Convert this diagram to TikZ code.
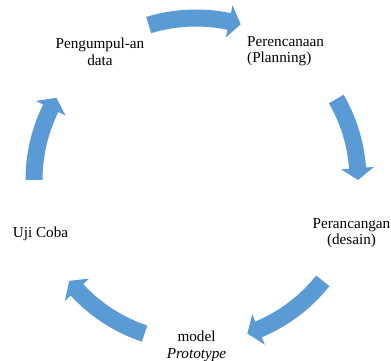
\documentclass[tikz,border=0pt]{standalone}
\usepackage{fontspec}
\setmainfont{Liberation Serif}
\definecolor{cyclblue}{RGB}{91,155,213}
\tikzset{
  lbl/.style={inner sep=0pt, font=\fontsize{15.2}{16.5}\selectfont, align=center},
  arrowfill/.style={fill=cyclblue, draw=none}
}
\newcommand{\cycarrow}[2]{% tail angle, tip angle (clockwise)
  \fill[arrowfill, shift={(196,181)}]
    (#1:170.5) arc[start angle=#1, end angle=#2+4.2, radius=170.5]
    -- (#2+4.2:178.5) -- (#2:162) -- (#2+4.2:145.5) -- (#2+4.2:153.5)
    arc[start angle=#2+4.2, end angle=#1, radius=153.5] -- cycle;
}
\begin{document}
\begin{tikzpicture}[x=1pt, y=1pt]
\useasboundingbox (0,0) rectangle (391,361);
\cycarrow{107}{74}
\cycarrow{30}{0}
\cycarrow{-38.5}{-71.5}
\cycarrow{-108.5}{-141.5}
\cycarrow{180}{149.5}
\node[lbl] (peng) at (100,309) {Pengumpul-an\\data};
\node[lbl, align=left, anchor=west] (pere) at (247,310) {Perencanaan\\(Planning)};
\node[lbl] (pera) at (351.5,128) {Perancangan\\(desain)};
\node[lbl] (model) at (196.5,14.5) {model\\\textit{Prototype}};
\node[lbl] (uji) at (40.5,127.5) {Uji Coba};
\end{tikzpicture}
\end{document}
